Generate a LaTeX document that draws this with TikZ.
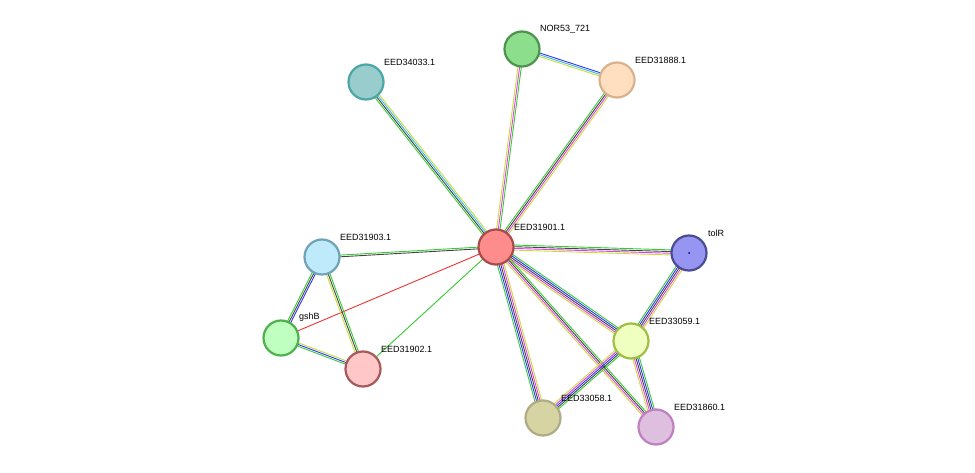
\documentclass[tikz,border=0pt]{standalone}
\usepackage{fontspec}
\setmainfont{Liberation Sans}
\usetikzlibrary{calc}
\pgfdeclarelayer{bg}\pgfsetlayers{bg,main}
\definecolor{eg}{HTML}{33CC33}\definecolor{ey}{HTML}{C8DC3C}\definecolor{ek}{HTML}{444444}
\definecolor{em}{HTML}{E040E0}\definecolor{eb}{HTML}{3333FF}\definecolor{ec}{HTML}{33BBEE}\definecolor{er}{HTML}{EE3333}
\newcommand\ml[4]{\foreach \c [count=\i] in {#3}{\pgfmathsetmacro\o{(\i-(#4+1)/2)*1.7}\draw[color=\c,line width=0.9pt] ($(#1)!\o pt!90:(#2)$) -- ($(#2)!\o pt!-90:(#1)$);}}
\tikzset{pn/.style={circle,minimum size=35pt,line width=2.2pt,inner sep=0pt},
lb/.style={font=\fontsize{9}{10}\selectfont,anchor=south west,inner sep=0pt}}
\begin{document}
\begin{tikzpicture}[x=1pt,y=-1pt]
\useasboundingbox (0,0) rectangle (975,473);
\node[pn,fill=red!45,draw=red!50!black!70] (c) at (496,247) {};
\node[pn,fill=green!70!black!45,draw=green!40!black!70] (nor) at (522,49) {};
\node[pn,fill=orange!25,draw=brown!60] (e888) at (617,80) {};
\node[pn,fill=teal!40,draw=teal!70] (e033) at (366,82) {};
\node[pn,fill=cyan!25,draw=cyan!40!gray] (e903) at (322,257) {};
\node[pn,fill=blue!40!white!90!gray,draw=blue!40!black!70] (tol) at (689,253) {};
\node[pn,fill=green!25,draw=green!40!gray] (gsh) at (281,338) {};
\node[pn,fill=red!22,draw=red!30!gray] (e902) at (363,369) {};
\node[pn,fill=lime!25,draw=lime!50!gray] (e059) at (631,341) {};
\node[pn,fill=yellow!40!gray!60,draw=yellow!40!black!60] (e058) at (543,418) {};
\node[pn,fill=violet!25,draw=violet!50] (e860) at (656,427) {};
\fill[blue!60!black] (tol.center) circle (1pt);
\begin{pgfonlayer}{bg}
\ml{c}{e033}{ey,ec,ek,eg}{4}
\ml{c}{nor}{eg,em,ey}{3}
\ml{nor}{e888}{ey,ec,eb}{3}
\ml{c}{e888}{ey,em,ek,eg}{4}
\ml{c}{e903}{eg,ek}{2}
\ml{c}{tol}{ey,em,ek,eg}{4}
\ml{c}{e059}{ey,em,ek,eb,eg}{5}
\ml{c}{e860}{ey,em,ek,eg}{4}
\ml{c}{e058}{eg,eb,ek,em,ey}{5}
\ml{c}{gsh}{er}{1}
\ml{c}{e902}{eg}{1}
\ml{tol}{e059}{eg,eb,ek,em,ey}{5}
\ml{e059}{e058}{ey,em,eb,ek,eg}{5}
\ml{e059}{e860}{ey,em,ek,eb,eg}{5}
\ml{e903}{gsh}{eg,ek,eb}{3}
\ml{e903}{e902}{ey,ek,eg}{3}
\ml{gsh}{e902}{eg,eb,ey}{3}
\end{pgfonlayer}
\node[lb] at (514,231) {EED31901.1};
\node[lb] at (540,33) {NOR53\_721};
\node[lb] at (635,64) {EED31888.1};
\node[lb] at (384,66) {EED34033.1};
\node[lb] at (340,241) {EED31903.1};
\node[lb] at (708,237) {tolR};
\node[lb] at (299,322) {gshB};
\node[lb] at (381,353) {EED31902.1};
\node[lb] at (649,325) {EED33059.1};
\node[lb] at (561,402) {EED33058.1};
\node[lb] at (674,411) {EED31860.1};
\end{tikzpicture}
\end{document}
